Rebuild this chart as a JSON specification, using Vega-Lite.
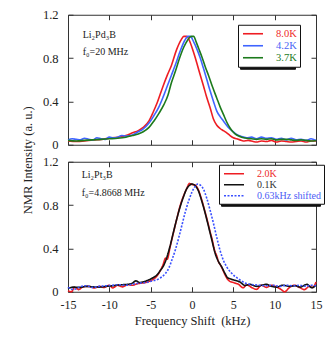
{
  "$schema": "https://vega.github.io/schema/vega-lite/v6.json",
  "padding": {"left": 21, "top": 8.75, "right": 5, "bottom": 5},
  "background": "white",
  "config": {
    "font": "Liberation Serif",
    "view": {"stroke": null},
    "axis": {"grid": false, "domainColor": "#333", "tickColor": "#333", "tickSize": -5, "labelFont": "Liberation Serif", "labelFontSize": 12.5, "labelColor": "#222", "titleFont": "Liberation Serif", "titleFontSize": 12.5, "titleFontWeight": "normal", "titleColor": "#222"},
    "legend": {"orient": "none", "title": null, "labelFont": "Liberation Serif", "symbolType": "M-2,0H2", "symbolSize": 100, "symbolOffset": 6, "labelOffset": 17, "padding": 3, "strokeColor": "#111", "fillColor": "white", "labelLimit": 300}
  },
  "datasets": {
    "top": [
      {"f": -15, "v": 0.035, "s": "8.0K"}, {"f": -14, "v": 0.03, "s": "8.0K"}, {"f": -13, "v": 0.035, "s": "8.0K"}, {"f": -12, "v": 0.045, "s": "8.0K"}, {"f": -11, "v": 0.05, "s": "8.0K"}, {"f": -10, "v": 0.06, "s": "8.0K"}, {"f": -9, "v": 0.07, "s": "8.0K"}, {"f": -8, "v": 0.085, "s": "8.0K"}, {"f": -7.2, "v": 0.11, "s": "8.0K"}, {"f": -6.5, "v": 0.13, "s": "8.0K"}, {"f": -5.9, "v": 0.16, "s": "8.0K"}, {"f": -5.2, "v": 0.22, "s": "8.0K"}, {"f": -4.7, "v": 0.3, "s": "8.0K"}, {"f": -4.2, "v": 0.39, "s": "8.0K"}, {"f": -3.6, "v": 0.52, "s": "8.0K"}, {"f": -3.0, "v": 0.64, "s": "8.0K"}, {"f": -2.5, "v": 0.73, "s": "8.0K"}, {"f": -1.85, "v": 0.88, "s": "8.0K"}, {"f": -1.3, "v": 0.97, "s": "8.0K"}, {"f": -1.0, "v": 1.0, "s": "8.0K"}, {"f": -0.6, "v": 1.0, "s": "8.0K"}, {"f": -0.3, "v": 0.96, "s": "8.0K"}, {"f": 0.16, "v": 0.86, "s": "8.0K"}, {"f": 0.6, "v": 0.75, "s": "8.0K"}, {"f": 0.97, "v": 0.65, "s": "8.0K"}, {"f": 1.4, "v": 0.54, "s": "8.0K"}, {"f": 1.77, "v": 0.44, "s": "8.0K"}, {"f": 2.2, "v": 0.34, "s": "8.0K"}, {"f": 2.58, "v": 0.24, "s": "8.0K"}, {"f": 3.0, "v": 0.18, "s": "8.0K"}, {"f": 3.4, "v": 0.15, "s": "8.0K"}, {"f": 3.8, "v": 0.13, "s": "8.0K"}, {"f": 4.2, "v": 0.11, "s": "8.0K"}, {"f": 4.6, "v": 0.085, "s": "8.0K"}, {"f": 5.0, "v": 0.065, "s": "8.0K"}, {"f": 5.4, "v": 0.055, "s": "8.0K"}, {"f": 5.8, "v": 0.045, "s": "8.0K"}, {"f": 6.2, "v": 0.035, "s": "8.0K"}, {"f": 6.8, "v": 0.04, "s": "8.0K"}, {"f": 7.4, "v": 0.03, "s": "8.0K"}, {"f": 7.8, "v": 0.025, "s": "8.0K"}, {"f": 8.4, "v": 0.035, "s": "8.0K"}, {"f": 9.0, "v": 0.03, "s": "8.0K"}, {"f": 9.6, "v": 0.04, "s": "8.0K"}, {"f": 10.2, "v": 0.025, "s": "8.0K"}, {"f": 10.8, "v": 0.035, "s": "8.0K"}, {"f": 11.4, "v": 0.03, "s": "8.0K"}, {"f": 12.0, "v": 0.025, "s": "8.0K"}, {"f": 12.6, "v": 0.03, "s": "8.0K"}, {"f": 13.2, "v": 0.035, "s": "8.0K"}, {"f": 13.8, "v": 0.025, "s": "8.0K"}, {"f": 14.4, "v": 0.035, "s": "8.0K"}, {"f": 15, "v": 0.035, "s": "8.0K"},
      {"f": -15, "v": 0.045, "s": "4.2K"}, {"f": -14.5, "v": 0.055, "s": "4.2K"}, {"f": -14, "v": 0.05, "s": "4.2K"}, {"f": -13.5, "v": 0.045, "s": "4.2K"}, {"f": -13, "v": 0.06, "s": "4.2K"}, {"f": -12.5, "v": 0.05, "s": "4.2K"}, {"f": -12, "v": 0.045, "s": "4.2K"}, {"f": -11.5, "v": 0.065, "s": "4.2K"}, {"f": -11, "v": 0.055, "s": "4.2K"}, {"f": -10.5, "v": 0.05, "s": "4.2K"}, {"f": -10, "v": 0.07, "s": "4.2K"}, {"f": -9.5, "v": 0.065, "s": "4.2K"}, {"f": -9, "v": 0.07, "s": "4.2K"}, {"f": -8.5, "v": 0.085, "s": "4.2K"}, {"f": -8, "v": 0.08, "s": "4.2K"}, {"f": -7.2, "v": 0.09, "s": "4.2K"}, {"f": -6.5, "v": 0.12, "s": "4.2K"}, {"f": -6.0, "v": 0.14, "s": "4.2K"}, {"f": -5.2, "v": 0.2, "s": "4.2K"}, {"f": -4.6, "v": 0.27, "s": "4.2K"}, {"f": -4.0, "v": 0.35, "s": "4.2K"}, {"f": -3.5, "v": 0.44, "s": "4.2K"}, {"f": -3.0, "v": 0.54, "s": "4.2K"}, {"f": -2.5, "v": 0.64, "s": "4.2K"}, {"f": -2.0, "v": 0.74, "s": "4.2K"}, {"f": -1.45, "v": 0.86, "s": "4.2K"}, {"f": -0.9, "v": 0.96, "s": "4.2K"}, {"f": -0.5, "v": 1.0, "s": "4.2K"}, {"f": -0.2, "v": 1.0, "s": "4.2K"}, {"f": 0.2, "v": 0.95, "s": "4.2K"}, {"f": 0.56, "v": 0.89, "s": "4.2K"}, {"f": 1.0, "v": 0.8, "s": "4.2K"}, {"f": 1.37, "v": 0.71, "s": "4.2K"}, {"f": 1.8, "v": 0.6, "s": "4.2K"}, {"f": 2.18, "v": 0.5, "s": "4.2K"}, {"f": 2.6, "v": 0.4, "s": "4.2K"}, {"f": 3.0, "v": 0.31, "s": "4.2K"}, {"f": 3.4, "v": 0.26, "s": "4.2K"}, {"f": 3.8, "v": 0.22, "s": "4.2K"}, {"f": 4.4, "v": 0.16, "s": "4.2K"}, {"f": 5.0, "v": 0.12, "s": "4.2K"}, {"f": 5.4, "v": 0.095, "s": "4.2K"}, {"f": 6.0, "v": 0.075, "s": "4.2K"}, {"f": 6.6, "v": 0.065, "s": "4.2K"}, {"f": 7.2, "v": 0.07, "s": "4.2K"}, {"f": 7.8, "v": 0.055, "s": "4.2K"}, {"f": 8.4, "v": 0.07, "s": "4.2K"}, {"f": 9.0, "v": 0.06, "s": "4.2K"}, {"f": 9.6, "v": 0.065, "s": "4.2K"}, {"f": 10.2, "v": 0.05, "s": "4.2K"}, {"f": 10.8, "v": 0.06, "s": "4.2K"}, {"f": 11.4, "v": 0.045, "s": "4.2K"}, {"f": 12.0, "v": 0.06, "s": "4.2K"}, {"f": 12.6, "v": 0.045, "s": "4.2K"}, {"f": 13.2, "v": 0.05, "s": "4.2K"}, {"f": 13.8, "v": 0.04, "s": "4.2K"}, {"f": 14.4, "v": 0.055, "s": "4.2K"}, {"f": 15, "v": 0.04, "s": "4.2K"},
      {"f": -15, "v": 0.04, "s": "3.7K"}, {"f": -14, "v": 0.035, "s": "3.7K"}, {"f": -13, "v": 0.04, "s": "3.7K"}, {"f": -12, "v": 0.045, "s": "3.7K"}, {"f": -11, "v": 0.05, "s": "3.7K"}, {"f": -10, "v": 0.055, "s": "3.7K"}, {"f": -9, "v": 0.06, "s": "3.7K"}, {"f": -8, "v": 0.07, "s": "3.7K"}, {"f": -7.2, "v": 0.085, "s": "3.7K"}, {"f": -6.5, "v": 0.1, "s": "3.7K"}, {"f": -5.9, "v": 0.12, "s": "3.7K"}, {"f": -5.2, "v": 0.16, "s": "3.7K"}, {"f": -4.6, "v": 0.22, "s": "3.7K"}, {"f": -4.0, "v": 0.29, "s": "3.7K"}, {"f": -3.4, "v": 0.37, "s": "3.7K"}, {"f": -2.9, "v": 0.46, "s": "3.7K"}, {"f": -2.5, "v": 0.57, "s": "3.7K"}, {"f": -2.0, "v": 0.68, "s": "3.7K"}, {"f": -1.5, "v": 0.8, "s": "3.7K"}, {"f": -1.0, "v": 0.9, "s": "3.7K"}, {"f": -0.5, "v": 0.97, "s": "3.7K"}, {"f": -0.1, "v": 1.0, "s": "3.7K"}, {"f": 0.2, "v": 1.0, "s": "3.7K"}, {"f": 0.5, "v": 0.95, "s": "3.7K"}, {"f": 0.8, "v": 0.89, "s": "3.7K"}, {"f": 1.2, "v": 0.81, "s": "3.7K"}, {"f": 1.6, "v": 0.72, "s": "3.7K"}, {"f": 2.0, "v": 0.64, "s": "3.7K"}, {"f": 2.5, "v": 0.53, "s": "3.7K"}, {"f": 3.0, "v": 0.43, "s": "3.7K"}, {"f": 3.4, "v": 0.35, "s": "3.7K"}, {"f": 3.8, "v": 0.28, "s": "3.7K"}, {"f": 4.2, "v": 0.21, "s": "3.7K"}, {"f": 4.6, "v": 0.155, "s": "3.7K"}, {"f": 5.0, "v": 0.115, "s": "3.7K"}, {"f": 5.4, "v": 0.09, "s": "3.7K"}, {"f": 6.0, "v": 0.07, "s": "3.7K"}, {"f": 6.6, "v": 0.06, "s": "3.7K"}, {"f": 7.2, "v": 0.055, "s": "3.7K"}, {"f": 7.8, "v": 0.05, "s": "3.7K"}, {"f": 8.4, "v": 0.055, "s": "3.7K"}, {"f": 9.0, "v": 0.05, "s": "3.7K"}, {"f": 9.6, "v": 0.055, "s": "3.7K"}, {"f": 10.2, "v": 0.045, "s": "3.7K"}, {"f": 10.8, "v": 0.05, "s": "3.7K"}, {"f": 11.4, "v": 0.05, "s": "3.7K"}, {"f": 12.0, "v": 0.045, "s": "3.7K"}, {"f": 12.6, "v": 0.04, "s": "3.7K"}, {"f": 13.2, "v": 0.045, "s": "3.7K"}, {"f": 13.8, "v": 0.04, "s": "3.7K"}, {"f": 14.4, "v": 0.035, "s": "3.7K"}, {"f": 15, "v": 0.04, "s": "3.7K"}
    ],
    "bottom": [
      {"f": -15, "v": 0.01, "s": "2.0K"}, {"f": -14.6, "v": 0.0, "s": "2.0K"}, {"f": -14.2, "v": 0.04, "s": "2.0K"}, {"f": -13.7, "v": 0.02, "s": "2.0K"}, {"f": -13.2, "v": 0.045, "s": "2.0K"}, {"f": -12.5, "v": 0.05, "s": "2.0K"}, {"f": -11.8, "v": 0.035, "s": "2.0K"}, {"f": -11.2, "v": 0.05, "s": "2.0K"}, {"f": -10.6, "v": 0.04, "s": "2.0K"}, {"f": -10.0, "v": 0.06, "s": "2.0K"}, {"f": -9.6, "v": 0.035, "s": "2.0K"}, {"f": -9.0, "v": 0.06, "s": "2.0K"}, {"f": -8.4, "v": 0.045, "s": "2.0K"}, {"f": -7.8, "v": 0.065, "s": "2.0K"}, {"f": -7.2, "v": 0.06, "s": "2.0K"}, {"f": -6.6, "v": 0.075, "s": "2.0K"}, {"f": -6.0, "v": 0.08, "s": "2.0K"}, {"f": -5.4, "v": 0.09, "s": "2.0K"}, {"f": -4.8, "v": 0.11, "s": "2.0K"}, {"f": -4.3, "v": 0.14, "s": "2.0K"}, {"f": -3.8, "v": 0.2, "s": "2.0K"}, {"f": -3.5, "v": 0.25, "s": "2.0K"}, {"f": -3.2, "v": 0.31, "s": "2.0K"}, {"f": -3.0, "v": 0.3, "s": "2.0K"}, {"f": -2.66, "v": 0.41, "s": "2.0K"}, {"f": -2.26, "v": 0.54, "s": "2.0K"}, {"f": -1.85, "v": 0.67, "s": "2.0K"}, {"f": -1.45, "v": 0.79, "s": "2.0K"}, {"f": -1.05, "v": 0.88, "s": "2.0K"}, {"f": -0.65, "v": 0.95, "s": "2.0K"}, {"f": -0.3, "v": 1.0, "s": "2.0K"}, {"f": 0.0, "v": 0.99, "s": "2.0K"}, {"f": 0.36, "v": 0.985, "s": "2.0K"}, {"f": 0.77, "v": 0.94, "s": "2.0K"}, {"f": 1.17, "v": 0.85, "s": "2.0K"}, {"f": 1.57, "v": 0.74, "s": "2.0K"}, {"f": 1.98, "v": 0.62, "s": "2.0K"}, {"f": 2.2, "v": 0.55, "s": "2.0K"}, {"f": 2.38, "v": 0.5, "s": "2.0K"}, {"f": 2.78, "v": 0.37, "s": "2.0K"}, {"f": 3.0, "v": 0.33, "s": "2.0K"}, {"f": 3.19, "v": 0.28, "s": "2.0K"}, {"f": 3.5, "v": 0.24, "s": "2.0K"}, {"f": 3.8, "v": 0.19, "s": "2.0K"}, {"f": 4.1, "v": 0.14, "s": "2.0K"}, {"f": 4.5, "v": 0.1, "s": "2.0K"}, {"f": 5.0, "v": 0.085, "s": "2.0K"}, {"f": 5.6, "v": 0.07, "s": "2.0K"}, {"f": 6.2, "v": 0.037, "s": "2.0K"}, {"f": 6.6, "v": 0.065, "s": "2.0K"}, {"f": 7.2, "v": 0.04, "s": "2.0K"}, {"f": 7.8, "v": 0.022, "s": "2.0K"}, {"f": 8.4, "v": 0.06, "s": "2.0K"}, {"f": 9.0, "v": 0.04, "s": "2.0K"}, {"f": 9.6, "v": 0.06, "s": "2.0K"}, {"f": 10.2, "v": 0.045, "s": "2.0K"}, {"f": 10.8, "v": 0.02, "s": "2.0K"}, {"f": 11.2, "v": 0.0, "s": "2.0K"}, {"f": 11.8, "v": 0.04, "s": "2.0K"}, {"f": 12.4, "v": 0.06, "s": "2.0K"}, {"f": 13.0, "v": 0.04, "s": "2.0K"}, {"f": 13.6, "v": 0.02, "s": "2.0K"}, {"f": 14.2, "v": 0.05, "s": "2.0K"}, {"f": 14.6, "v": 0.04, "s": "2.0K"}, {"f": 15, "v": 0.09, "s": "2.0K"},
      {"f": -15, "v": 0.03, "s": "0.1K"}, {"f": -14.4, "v": 0.043, "s": "0.1K"}, {"f": -13.6, "v": 0.04, "s": "0.1K"}, {"f": -12.8, "v": 0.05, "s": "0.1K"}, {"f": -12, "v": 0.045, "s": "0.1K"}, {"f": -11.2, "v": 0.043, "s": "0.1K"}, {"f": -10.4, "v": 0.05, "s": "0.1K"}, {"f": -9.6, "v": 0.055, "s": "0.1K"}, {"f": -9.2, "v": 0.06, "s": "0.1K"}, {"f": -8.4, "v": 0.065, "s": "0.1K"}, {"f": -7.6, "v": 0.07, "s": "0.1K"}, {"f": -7.2, "v": 0.08, "s": "0.1K"}, {"f": -6.8, "v": 0.1, "s": "0.1K"}, {"f": -6.3, "v": 0.085, "s": "0.1K"}, {"f": -6.0, "v": 0.09, "s": "0.1K"}, {"f": -5.2, "v": 0.11, "s": "0.1K"}, {"f": -4.6, "v": 0.135, "s": "0.1K"}, {"f": -4.3, "v": 0.15, "s": "0.1K"}, {"f": -3.8, "v": 0.2, "s": "0.1K"}, {"f": -3.47, "v": 0.236, "s": "0.1K"}, {"f": -3.06, "v": 0.313, "s": "0.1K"}, {"f": -2.66, "v": 0.42, "s": "0.1K"}, {"f": -2.26, "v": 0.546, "s": "0.1K"}, {"f": -1.85, "v": 0.67, "s": "0.1K"}, {"f": -1.45, "v": 0.78, "s": "0.1K"}, {"f": -1.05, "v": 0.872, "s": "0.1K"}, {"f": -0.65, "v": 0.949, "s": "0.1K"}, {"f": -0.24, "v": 0.986, "s": "0.1K"}, {"f": 0, "v": 0.995, "s": "0.1K"}, {"f": 0.36, "v": 0.98, "s": "0.1K"}, {"f": 0.77, "v": 0.933, "s": "0.1K"}, {"f": 1.17, "v": 0.84, "s": "0.1K"}, {"f": 1.57, "v": 0.732, "s": "0.1K"}, {"f": 1.98, "v": 0.608, "s": "0.1K"}, {"f": 2.38, "v": 0.484, "s": "0.1K"}, {"f": 2.78, "v": 0.36, "s": "0.1K"}, {"f": 3.19, "v": 0.28, "s": "0.1K"}, {"f": 3.59, "v": 0.23, "s": "0.1K"}, {"f": 4.0, "v": 0.167, "s": "0.1K"}, {"f": 4.3, "v": 0.13, "s": "0.1K"}, {"f": 4.6, "v": 0.12, "s": "0.1K"}, {"f": 5.2, "v": 0.105, "s": "0.1K"}, {"f": 5.8, "v": 0.09, "s": "0.1K"}, {"f": 6.4, "v": 0.058, "s": "0.1K"}, {"f": 7.0, "v": 0.068, "s": "0.1K"}, {"f": 7.8, "v": 0.05, "s": "0.1K"}, {"f": 8.4, "v": 0.06, "s": "0.1K"}, {"f": 9.0, "v": 0.068, "s": "0.1K"}, {"f": 9.6, "v": 0.05, "s": "0.1K"}, {"f": 10.2, "v": 0.043, "s": "0.1K"}, {"f": 11.0, "v": 0.06, "s": "0.1K"}, {"f": 11.8, "v": 0.05, "s": "0.1K"}, {"f": 12.5, "v": 0.055, "s": "0.1K"}, {"f": 13.1, "v": 0.043, "s": "0.1K"}, {"f": 13.9, "v": 0.068, "s": "0.1K"}, {"f": 14.5, "v": 0.037, "s": "0.1K"}, {"f": 15, "v": 0.06, "s": "0.1K"},
      {"f": -15, "v": 0.04, "s": "0.63kHz shifted"}, {"f": -14.3, "v": 0.02, "s": "0.63kHz shifted"}, {"f": -13.6, "v": 0.045, "s": "0.63kHz shifted"}, {"f": -12.8, "v": 0.055, "s": "0.63kHz shifted"}, {"f": -12.0, "v": 0.04, "s": "0.63kHz shifted"}, {"f": -11.2, "v": 0.05, "s": "0.63kHz shifted"}, {"f": -10.4, "v": 0.055, "s": "0.63kHz shifted"}, {"f": -9.6, "v": 0.06, "s": "0.63kHz shifted"}, {"f": -8.8, "v": 0.065, "s": "0.63kHz shifted"}, {"f": -8.0, "v": 0.06, "s": "0.63kHz shifted"}, {"f": -7.2, "v": 0.07, "s": "0.63kHz shifted"}, {"f": -6.4, "v": 0.08, "s": "0.63kHz shifted"}, {"f": -5.6, "v": 0.085, "s": "0.63kHz shifted"}, {"f": -4.8, "v": 0.1, "s": "0.63kHz shifted"}, {"f": -4.0, "v": 0.12, "s": "0.63kHz shifted"}, {"f": -3.6, "v": 0.14, "s": "0.63kHz shifted"}, {"f": -3.2, "v": 0.17, "s": "0.63kHz shifted"}, {"f": -2.8, "v": 0.22, "s": "0.63kHz shifted"}, {"f": -2.4, "v": 0.3, "s": "0.63kHz shifted"}, {"f": -2.0, "v": 0.39, "s": "0.63kHz shifted"}, {"f": -1.6, "v": 0.5, "s": "0.63kHz shifted"}, {"f": -1.2, "v": 0.62, "s": "0.63kHz shifted"}, {"f": -0.8, "v": 0.74, "s": "0.63kHz shifted"}, {"f": -0.4, "v": 0.84, "s": "0.63kHz shifted"}, {"f": 0.0, "v": 0.92, "s": "0.63kHz shifted"}, {"f": 0.4, "v": 0.975, "s": "0.63kHz shifted"}, {"f": 0.7, "v": 0.995, "s": "0.63kHz shifted"}, {"f": 1.0, "v": 0.985, "s": "0.63kHz shifted"}, {"f": 1.4, "v": 0.945, "s": "0.63kHz shifted"}, {"f": 1.8, "v": 0.86, "s": "0.63kHz shifted"}, {"f": 2.2, "v": 0.75, "s": "0.63kHz shifted"}, {"f": 2.6, "v": 0.63, "s": "0.63kHz shifted"}, {"f": 3.0, "v": 0.5, "s": "0.63kHz shifted"}, {"f": 3.4, "v": 0.38, "s": "0.63kHz shifted"}, {"f": 3.8, "v": 0.29, "s": "0.63kHz shifted"}, {"f": 4.2, "v": 0.23, "s": "0.63kHz shifted"}, {"f": 4.8, "v": 0.17, "s": "0.63kHz shifted"}, {"f": 5.6, "v": 0.12, "s": "0.63kHz shifted"}, {"f": 6.6, "v": 0.075, "s": "0.63kHz shifted"}, {"f": 7.4, "v": 0.065, "s": "0.63kHz shifted"}, {"f": 8.2, "v": 0.06, "s": "0.63kHz shifted"}, {"f": 9.0, "v": 0.055, "s": "0.63kHz shifted"}, {"f": 9.8, "v": 0.06, "s": "0.63kHz shifted"}, {"f": 10.6, "v": 0.05, "s": "0.63kHz shifted"}, {"f": 11.4, "v": 0.06, "s": "0.63kHz shifted"}, {"f": 12.2, "v": 0.055, "s": "0.63kHz shifted"}, {"f": 13.0, "v": 0.06, "s": "0.63kHz shifted"}, {"f": 13.8, "v": 0.05, "s": "0.63kHz shifted"}, {"f": 14.4, "v": 0.06, "s": "0.63kHz shifted"}, {"f": 15, "v": 0.055, "s": "0.63kHz shifted"}
    ]
  },
  "spacing": 17,
  "bounds": "flush",
  "resolve": {
    "scale": {"color": "independent", "strokeDash": "independent", "strokeWidth": "independent"},
    "legend": {"color": "independent", "strokeDash": "independent", "strokeWidth": "independent"}
  },
  "vconcat": [
    {
      "width": 248,
      "height": 130,
      "layer": [
        {
          "data": {"name": "top"},
          "mark": {"type": "line", "interpolate": "monotone"},
          "encoding": {
            "x": {"field": "f", "type": "quantitative", "scale": {"domain": [-15, 15], "nice": false}, "axis": {"orient": "bottom", "values": [-15, -10, -5, 0, 5, 10, 15], "labels": false, "title": null}},
            "y": {"field": "v", "type": "quantitative", "scale": {"domain": [0, 1.2], "nice": false}, "axis": {"orient": "left", "values": [0, 0.4, 0.8, 1.2], "labelPadding": 15, "labelExpr": "'' + datum.value", "title": "NMR Intensity (a. u.)", "titleAngle": -90, "titleX": -37, "titleY": 145, "titleAlign": "center", "titleBaseline": "alphabetic"}},
            "color": {"field": "s", "type": "nominal", "scale": {"domain": ["8.0K", "4.2K", "3.7K"], "range": ["#ee1d23", "#3f64ff", "#1c7a1c"]},
              "legend": {"legendX": 170, "legendY": 10, "zindex": 2, "labelFontSize": 10.5, "rowPadding": -2, "symbolStrokeWidth": 1.6,
                "encode": {"labels": {"update": {"fill": {"signal": "datum.label === '8.0K' ? '#ee2a2a' : datum.label === '4.2K' ? '#4a64f5' : '#237a23'"}}}}}},
            "strokeWidth": {"field": "s", "type": "nominal", "scale": {"type": "ordinal", "domain": ["3.7K", "4.2K", "8.0K"], "range": [1.6, 1.6, 1.6]},
              "legend": {"legendX": 172, "legendY": 12, "zindex": 1, "labelFontSize": 10.5, "rowPadding": -2, "fillColor": "#111", "strokeColor": "#111", "labelExpr": "''", "symbolType": "M-2,0H7.38", "symbolOpacity": 0}}
          }
        },
        {
          "data": {"name": "top"},
          "mark": {"type": "point", "opacity": 0},
          "encoding": {
            "x": {"field": "f", "type": "quantitative", "axis": {"orient": "top", "values": [-15, -10, -5, 0, 5, 10, 15], "labels": false, "title": null}},
            "y": {"field": "v", "type": "quantitative", "axis": {"orient": "right", "values": [0, 0.4, 0.8, 1.2], "labels": false, "title": null}}
          }
        },
        {
          "data": {"values": [{}]},
          "mark": {"type": "text", "align": "left", "baseline": "middle", "fontSize": 10, "color": "#222", "text": "Li₂Pd₃B"},
          "encoding": {"x": {"datum": -13.22, "type": "quantitative", "axis": null}, "y": {"datum": 1.015, "type": "quantitative", "axis": null}}
        },
        {
          "data": {"values": [{}]},
          "mark": {"type": "text", "align": "left", "baseline": "middle", "fontSize": 10, "color": "#222", "text": "f₀=20 MHz"},
          "encoding": {"x": {"datum": -13.22, "type": "quantitative", "axis": null}, "y": {"datum": 0.852, "type": "quantitative", "axis": null}}
        }
      ],
      "resolve": {"axis": {"x": "independent", "y": "independent"}}
    },
    {
      "width": 248,
      "height": 130,
      "layer": [
        {
          "data": {"name": "bottom"},
          "mark": {"type": "line", "interpolate": "monotone"},
          "encoding": {
            "x": {"field": "f", "type": "quantitative", "scale": {"domain": [-15, 15], "nice": false}, "axis": {"orient": "bottom", "values": [-15, -10, -5, 0, 5, 10, 15], "labelPadding": 13, "labelFontSize": 12, "labelFlush": false, "labelExpr": "'' + datum.value", "title": "Frequency Shift\u00a0\u00a0(kHz)", "titleY": 32.5, "titleBaseline": "alphabetic"}},
            "y": {"field": "v", "type": "quantitative", "scale": {"domain": [0, 1.2], "nice": false}, "axis": {"orient": "left", "values": [0, 0.4, 0.8, 1.2], "labelPadding": 15, "labelExpr": "'' + datum.value", "title": null}},
            "color": {"field": "s", "type": "nominal", "scale": {"domain": ["2.0K", "0.1K", "0.63kHz shifted"], "range": ["#ee1d23", "#111111", "#3a50ff"]},
              "legend": {"legendX": 151, "legendY": 3, "zindex": 2, "labelFontSize": 10, "rowPadding": -1.5, "symbolStrokeWidth": 1.6,
                "encode": {"labels": {"update": {"fill": {"signal": "datum.label === '2.0K' ? '#ee2a2a' : datum.label === '0.1K' ? '#333333' : '#4a5cf5'"}}}}}},
            "strokeDash": {"field": "s", "type": "nominal", "scale": {"domain": ["2.0K", "0.1K", "0.63kHz shifted"], "range": [[1, 0], [1, 0], [2, 1.5]]},
              "legend": {"legendX": 151, "legendY": 3, "zindex": 2, "labelFontSize": 10, "rowPadding": -1.5, "symbolStrokeWidth": 1.6,
                "encode": {"labels": {"update": {"fill": {"signal": "datum.label === '2.0K' ? '#ee2a2a' : datum.label === '0.1K' ? '#333333' : '#4a5cf5'"}}}}}},
            "strokeWidth": {"field": "s", "type": "nominal", "scale": {"type": "ordinal", "domain": ["0.63kHz shifted", "0.1K", "2.0K"], "range": [1.6, 1.6, 1.6]},
              "legend": {"legendX": 153, "legendY": 5, "zindex": 1, "labelFontSize": 10, "rowPadding": -1.5, "fillColor": "#111", "strokeColor": "#111", "labelExpr": "''", "symbolType": "M-2,0H16.02", "symbolOpacity": 0}}
          }
        },
        {
          "data": {"name": "bottom"},
          "mark": {"type": "point", "opacity": 0},
          "encoding": {
            "x": {"field": "f", "type": "quantitative", "axis": {"orient": "top", "values": [-15, -10, -5, 0, 5, 10, 15], "labels": false, "title": null}},
            "y": {"field": "v", "type": "quantitative", "axis": {"orient": "right", "values": [0, 0.4, 0.8, 1.2], "labels": false, "title": null}}
          }
        },
        {
          "data": {"values": [{}]},
          "mark": {"type": "text", "align": "left", "baseline": "middle", "fontSize": 10, "color": "#222", "text": "Li₂Pt₃B"},
          "encoding": {"x": {"datum": -13.34, "type": "quantitative", "axis": null}, "y": {"datum": 1.08, "type": "quantitative", "axis": null}}
        },
        {
          "data": {"values": [{}]},
          "mark": {"type": "text", "align": "left", "baseline": "middle", "fontSize": 10, "color": "#222", "text": "f₀=4.8668 MHz"},
          "encoding": {"x": {"datum": -13.34, "type": "quantitative", "axis": null}, "y": {"datum": 0.911, "type": "quantitative", "axis": null}}
        }
      ],
      "resolve": {"axis": {"x": "independent", "y": "independent"}}
    }
  ]
}
